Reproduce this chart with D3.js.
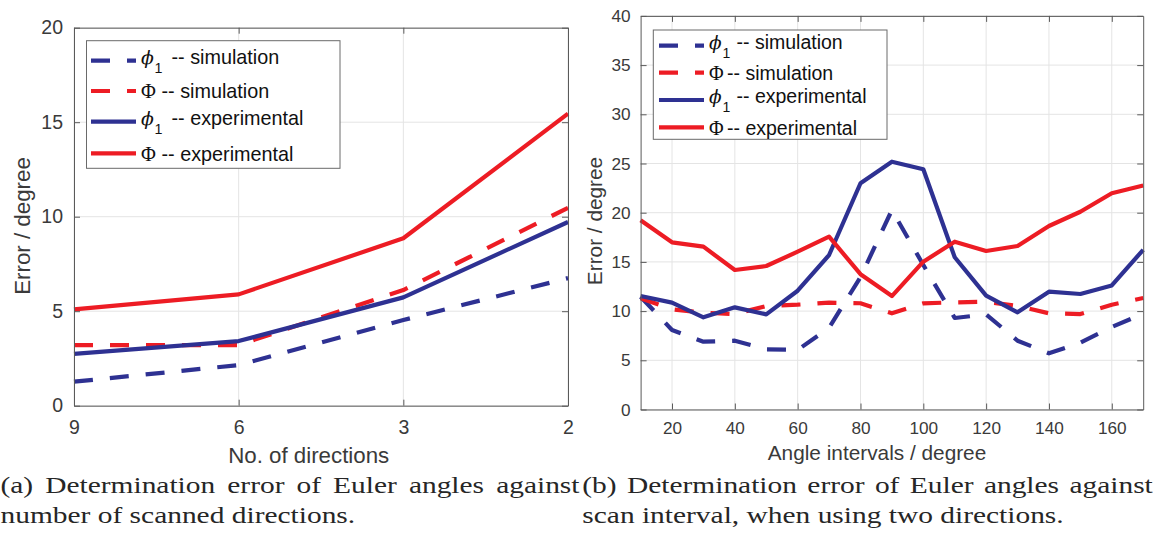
<!DOCTYPE html>
<html><head><meta charset="utf-8">
<script src="https://cdn.jsdelivr.net/npm/d3@7"></script>
<style>body{margin:0;background:#fff} svg{display:block}</style>
</head><body><svg id="c" width="1153" height="534"></svg>
<script>
// ---------- DATA ----------
// (a) error vs number of scanned directions
const directions = ["9", "6", "3", "2"];
const phi1SimA = [1.27, 2.15, 4.53, 6.75];
const PhiSimA  = [3.21, 3.21, 6.12, 10.47];
const phi1ExpA = [2.74, 3.42, 5.73, 9.72];
const PhiExpA  = [5.10, 5.89, 8.86, 15.45];
const yTicksA = [0, 5, 10, 15, 20];

// (b) error vs angle interval (two directions)
const angles = [10, 20, 30, 40, 50, 60, 70, 80, 90, 100, 110, 120, 130, 140, 150, 160, 170];
const phi1SimB = [11.46, 8.08, 6.89, 6.99, 6.12, 6.05, 8.31, 13.45, 20.27, 14.69, 9.30, 9.67, 6.99, 5.71, 6.79, 8.39, 9.74];
const PhiSimB  = [11.30, 10.18, 9.84, 9.70, 10.52, 10.65, 10.86, 10.80, 9.77, 10.79, 10.89, 10.95, 10.52, 9.77, 9.70, 10.65, 11.33];
const phi1ExpB = [11.53, 10.86, 9.37, 10.38, 9.67, 12.07, 15.70, 22.99, 25.18, 24.41, 15.47, 11.57, 9.88, 11.97, 11.74, 12.61, 16.23];
const PhiExpB  = [19.24, 16.99, 16.55, 14.18, 14.58, 16.04, 17.56, 13.75, 11.53, 15.02, 17.05, 16.11, 16.62, 18.65, 20.10, 21.98, 22.76];
const xTicksB = [20, 40, 60, 80, 100, 120, 140, 160];
const yTicksB = [0, 5, 10, 15, 20, 25, 30, 35, 40];

const legendSymbols = ["phi1", "Phi", "phi1", "Phi"];
const legendTexts = ["-- simulation", "-- simulation", "-- experimental", "-- experimental"];

const captionA = ["(a) Determination error of Euler angles against", "number of scanned directions."];
const captionB = ["(b) Determination error of Euler angles against", "scan interval, when using two directions."];

// ---------- STYLE ----------
const BLUE = "#2E3192", RED = "#ED1C24";
const seriesStyle = [
  {color: BLUE, dash: "19,17"},
  {color: RED, dash: "19,17"},
  {color: BLUE, dash: null},
  {color: RED, dash: null}
];
const SANS = "'Liberation Sans', Arial, Helvetica, sans-serif";
const SERIF = "'Liberation Serif', 'Times New Roman', serif";
const AXC = "#5a5a5a", TXC = "#3a3a3a", GRID = "#e4e4e4";

const svg = d3.select("#c");

function panel(o) {
  const g = svg.append("g");
  const [x0, x1] = o.x.range(), [y0, y1] = o.y.range(); // y0 bottom, y1 top
  // grid
  g.append("g").selectAll("line").data(o.xGrid).join("line")
    .attr("x1", d => o.x(d)).attr("x2", d => o.x(d))
    .attr("y1", y0).attr("y2", y1).attr("stroke", GRID).attr("stroke-width", 1);
  g.append("g").selectAll("line").data(o.yTicks).join("line")
    .attr("x1", x0).attr("x2", x1)
    .attr("y1", d => o.y(d)).attr("y2", d => o.y(d)).attr("stroke", GRID).attr("stroke-width", 1);
  // lines
  const line = d3.line().x((d, i) => o.x(o.xVals[i])).y(d => o.y(d));
  o.series.forEach((s, k) => {
    g.append("path").attr("d", line(s)).attr("fill", "none")
      .attr("stroke", seriesStyle[k].color).attr("stroke-width", o.lw)
      .attr("stroke-linejoin", "round")
      .attr("stroke-dasharray", seriesStyle[k].dash);
  });
  // axes
  const styleAxis = (sel) => {
    sel.select(".domain").attr("stroke", AXC).attr("stroke-width", 1);
    sel.selectAll(".tick line").attr("stroke", AXC).attr("stroke-width", 1);
    sel.selectAll("text").attr("fill", TXC).attr("font-family", SANS).attr("font-size", o.tickFont);
  };
  const bx = d3.axisBottom(o.x).tickSizeInner(-6).tickSizeOuter(0).tickPadding(o.xPad);
  if (o.xTickValues) bx.tickValues(o.xTickValues);
  g.append("g").attr("transform", `translate(0,${y0})`).call(bx).call(styleAxis);
  const tx = d3.axisTop(o.x).tickSizeInner(-6).tickSizeOuter(0).tickFormat("");
  if (o.xTickValues) tx.tickValues(o.xTickValues);
  g.append("g").attr("transform", `translate(0,${y1})`).call(tx).call(styleAxis);
  g.append("g").attr("transform", `translate(${x0},0)`)
    .call(d3.axisLeft(o.y).tickValues(o.yTicks).tickSizeInner(-6).tickSizeOuter(0).tickPadding(o.yPad))
    .call(styleAxis);
  g.append("g").attr("transform", `translate(${x1},0)`)
    .call(d3.axisRight(o.y).tickValues(o.yTicks).tickSizeInner(-6).tickSizeOuter(0).tickFormat(""))
    .call(styleAxis);
  g.selectAll(".domain").attr("fill", "none");
  // axis labels
  g.append("text").attr("x", o.xLabel.x).attr("y", o.xLabel.y).attr("text-anchor", "middle")
    .attr("font-family", SANS).attr("font-size", o.labelFont).attr("fill", TXC).text(o.xLabel.text);
  g.append("text").attr("transform", `translate(${o.yLabel.x},${o.yLabel.y}) rotate(-90)`)
    .attr("text-anchor", "middle").attr("font-family", SANS).attr("font-size", o.labelFont)
    .attr("fill", TXC).text(o.yLabel.text);
  // legend
  const L = o.legend;
  g.append("rect").attr("x", L.x0).attr("y", L.y0).attr("width", L.x1 - L.x0).attr("height", L.y1 - L.y0)
    .attr("fill", "#fff").attr("stroke", "#6a6a6a").attr("stroke-width", 1);
  legendSymbols.forEach((sym, k) => {
    const ry = L.rows[k];
    g.append("line").attr("x1", L.sx0).attr("x2", L.sx1).attr("y1", ry).attr("y2", ry)
      .attr("stroke", seriesStyle[k].color).attr("stroke-width", o.lw)
      .attr("stroke-dasharray", seriesStyle[k].dash);
    const isPhi1 = sym === "phi1";
    const base = ry + (isPhi1 ? 2.8 : 7.2);
    if (isPhi1) {
      g.append("text").attr("x", L.tx).attr("y", base).attr("font-family", "'DejaVu Serif', serif")
        .attr("font-style", "italic").attr("font-size", o.legFont - 1).attr("fill", "#111").text("\u03D5");
      g.append("text").attr("x", L.tx + 13.5).attr("y", base + 9.5).attr("font-family", SANS)
        .attr("font-size", o.legFont * 0.72).attr("fill", "#111").text("1");
    } else {
      g.append("text").attr("x", L.tx).attr("y", base).attr("font-family", SERIF)
        .attr("font-size", o.legFont + 0.5).attr("fill", "#111").text("\u03A6");
    }
    g.append("text").attr("x", L.tx + (isPhi1 ? L.dashOff1 : L.dashOff2)).attr("y", base)
      .attr("font-family", SANS).attr("font-size", o.legFont).attr("fill", "#111")
      .text(legendTexts[k]);
  });
}

// panel (a)
panel({
  x: d3.scalePoint().domain(directions).range([74, 568]).padding(0),
  y: d3.scaleLinear().domain([0, 20]).range([405.7, 27.7]),
  xVals: directions, xGrid: directions, yTicks: yTicksA,
  series: [phi1SimA, PhiSimA, phi1ExpA, PhiExpA],
  lw: 4.2, tickFont: 19.5, labelFont: 22.3, legFont: 19.8, xPad: 14.5, yPad: 11,
  xLabel: {x: 308.7, y: 462.7, text: "No. of directions"},
  yLabel: {x: 30, y: 226, text: "Error / degree"},
  legend: {x0: 86.5, y0: 40.7, x1: 340, y1: 168.3, rows: [60.7, 91, 121.7, 153.3],
           sx0: 91, sx1: 136, tx: 141, dashOff1: 30.5, dashOff2: 20.5}
});

// panel (b)
panel({
  x: d3.scaleLinear().domain([10, 170]).range([640.6, 1143.2]),
  y: d3.scaleLinear().domain([0, 40]).range([409.5, 15.9]),
  xVals: angles, xGrid: xTicksB, xTickValues: xTicksB, yTicks: yTicksB,
  series: [phi1SimB, PhiSimB, phi1ExpB, PhiExpB],
  lw: 4.2, tickFont: 17.2, labelFont: 20.8, legFont: 19.5, xPad: 12.5, yPad: 10,
  xLabel: {x: 877, y: 460, text: "Angle intervals / degree"},
  yLabel: {x: 602, y: 221, text: "Error / degree"},
  legend: {x0: 653.3, y0: 30, x1: 887, y1: 139.3, rows: [45.7, 72.7, 100, 127.3],
           sx0: 659, sx1: 704, tx: 709, dashOff1: 27.5, dashOff2: 18}
});

// captions (justified first lines, horizontally widened serif to mimic Computer Modern)
const SX = 1.28;
const cap = svg.append("g").attr("font-family", SERIF).attr("font-size", 23).attr("fill", "#262626");
const capLines = [
  {t: captionA[0], x: 0.5, y: 493.3, w: 579},
  {t: captionA[1], x: 0.5, y: 523.3, w: null},
  {t: captionB[0], x: 582.3, y: 493.3, w: 570.5},
  {t: captionB[1], x: 582.3, y: 523.3, w: null}
];
capLines.forEach(d => {
  const t = cap.append("text").attr("x", 0).attr("y", 0)
    .attr("transform", `translate(${d.x},${d.y}) scale(${SX},1)`)
    .style("white-space", "pre").text(d.t);
  if (d.w) {
    const natural = t.node().getComputedTextLength();
    const nsp = (d.t.match(/ /g) || []).length;
    const ws = (d.w / SX - natural) / nsp;
    t.attr("word-spacing", ws);
  }
});
</script>
</body></html>
